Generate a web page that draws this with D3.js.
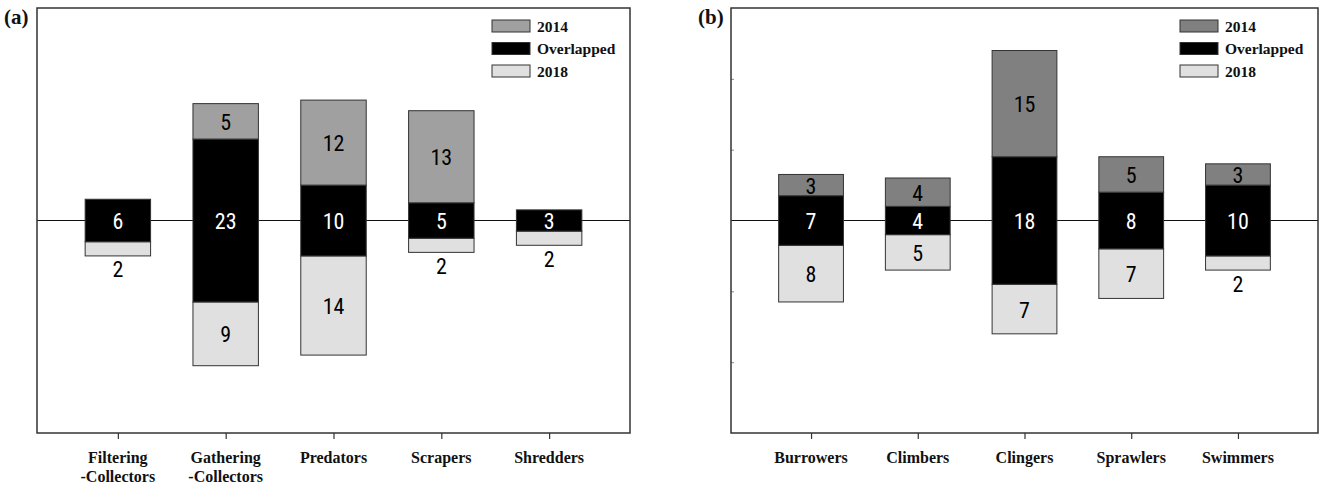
<!DOCTYPE html>
<html>
<head>
<meta charset="utf-8">
<script src="https://cdn.jsdelivr.net/npm/d3@7/dist/d3.min.js"></script>
<style>
  html, body { margin: 0; padding: 0; background: #fff; }
  svg { display: block; }
  .cat { font-family: "Liberation Serif", "Times New Roman", serif; font-weight: bold; font-size: 16px; fill: #111; }
  .leg { font-family: "Liberation Serif", "Times New Roman", serif; font-weight: bold; font-size: 15.5px; fill: #111; }
  .tag { font-family: "Liberation Serif", "Times New Roman", serif; font-weight: bold; font-size: 21px; fill: #111; }
  .val { font-family: "Liberation Sans Narrow", "Arial Narrow", "Roboto Condensed", "Liberation Sans", sans-serif; font-size: 22px; }
</style>
</head>
<body>
<svg id="chart" width="1323" height="486"></svg>
<script>
// Functional feeding groups (panel a)
const feedingGroups = [["Filtering", "-Collectors"], ["Gathering", "-Collectors"], ["Predators"], ["Scrapers"], ["Shredders"]];
const feeding2014 = [0, 5, 12, 13, 0];
const feedingOverlap = [6, 23, 10, 5, 3];
const feeding2018 = [2, 9, 14, 2, 2];

// Habit groups (panel b)
const habitGroups = [["Burrowers"], ["Climbers"], ["Clingers"], ["Sprawlers"], ["Swimmers"]];
const habit2014 = [3, 4, 15, 5, 3];
const habitOverlap = [7, 4, 18, 8, 10];
const habit2018 = [8, 5, 7, 7, 2];

const legendLabels = ["2014", "Overlapped", "2018"];
const yTicks = [-20, -10, 10, 20];

const svg = d3.select("#chart");

function panel(opts) {
  const { left, right, top, bottom, tag, groups, v2014, vOver, v2018, c2014, showTicks } = opts;
  const g = svg.append("g");
  const names = groups.map(d => d.join(" "));

  const x = d3.scalePoint().domain(names).range([left, right]).padding(0.75);
  const y = d3.scaleLinear().domain([-30, 30]).range([bottom, top]);
  const bw = x.step() * 0.607;

  // zero baseline
  g.append("line")
    .attr("x1", left).attr("x2", right)
    .attr("y1", y(0)).attr("y2", y(0))
    .attr("stroke", "#111").attr("stroke-width", 1.2);

  // left axis ticks (inward)
  if (showTicks) {
    const ax = d3.axisRight(y).tickValues(yTicks).tickSize(3).tickFormat("");
    const a = g.append("g").attr("transform", `translate(${left},0)`).call(ax);
    a.select(".domain").remove();
    a.selectAll("line").attr("stroke", "#888");
  }

  // stacked segments: overlap centred on zero, 2014 above, 2018 below
  const segs = [];
  names.forEach((n, i) => {
    const h = vOver[i] / 2;
    segs.push({ n, lo: -h - v2018[i], hi: -h, v: v2018[i], fill: "#e0e0e0", txt: "#000", kind: "2018" });
    segs.push({ n, lo: -h, hi: h, v: vOver[i], fill: "#000", txt: "#fff", kind: "over" });
    segs.push({ n, lo: h, hi: h + v2014[i], v: v2014[i], fill: c2014, txt: "#000", kind: "2014" });
  });
  const shown = segs.filter(s => s.v > 0);

  g.selectAll("rect.seg").data(shown).join("rect")
    .attr("class", "seg")
    .attr("x", d => x(d.n) - bw / 2)
    .attr("width", bw)
    .attr("y", d => y(d.hi))
    .attr("height", d => y(d.lo) - y(d.hi))
    .attr("fill", d => d.fill)
    .attr("stroke", "#333").attr("stroke-width", 1);

  g.selectAll("text.val").data(shown).join("text")
    .attr("class", "val")
    .attr("text-anchor", "middle")
    .attr("dominant-baseline", "central")
    .attr("x", d => x(d.n))
    .attr("y", d => {
      // very small 2018 segments carry their label underneath the bar
      if (d.kind === "2018" && d.v <= 2) return y(d.lo) + 14;
      return y((d.lo + d.hi) / 2) + 1;
    })
    .attr("fill", d => (d.kind === "2018" && d.v <= 2) ? "#000" : d.txt)
    .text(d => d.v);

  // frame
  g.append("rect")
    .attr("x", left).attr("y", top)
    .attr("width", right - left).attr("height", bottom - top)
    .attr("fill", "none").attr("stroke", "#333").attr("stroke-width", 1.5);

  // category axis
  const xa = d3.axisBottom(x).tickSize(6).tickFormat("");
  const xg = g.append("g").attr("transform", `translate(0,${bottom})`).call(xa);
  xg.select(".domain").remove();
  xg.selectAll("line").attr("stroke", "#333").attr("stroke-width", 1.2);

  const lab = g.selectAll("text.cat").data(groups).join("text")
    .attr("class", "cat")
    .attr("text-anchor", "middle")
    .attr("x", (d, i) => x(names[i]))
    .attr("y", bottom + 30);
  lab.selectAll("tspan").data(d => d).join("tspan")
    .attr("x", function () { return d3.select(this.parentNode).attr("x"); })
    .attr("dy", (d, i) => i === 0 ? 0 : 19)
    .text(d => d);

  // legend
  const lx = right - 138;
  const colors = [c2014, "#000", "#e0e0e0"];
  const lg = g.append("g");
  legendLabels.forEach((t, i) => {
    lg.append("rect")
      .attr("x", lx).attr("y", top + 12 + i * 22.5)
      .attr("width", 38).attr("height", 12)
      .attr("fill", colors[i]).attr("stroke", "#333").attr("stroke-width", 1);
    lg.append("text").attr("class", "leg")
      .attr("x", lx + 45).attr("y", top + 23.5 + i * 22.5)
      .text(t);
  });

  // panel tag
  svg.append("text").attr("class", "tag")
    .attr("x", left - 33).attr("y", top + 16)
    .text(tag);
}

panel({ left: 37, right: 630, top: 8, bottom: 433, tag: "(a)", groups: feedingGroups,
        v2014: feeding2014, vOver: feedingOverlap, v2018: feeding2018, c2014: "#a0a0a0", showTicks: false });
panel({ left: 731, right: 1318, top: 8, bottom: 433, tag: "(b)", groups: habitGroups,
        v2014: habit2014, vOver: habitOverlap, v2018: habit2018, c2014: "#808080", showTicks: true });
</script>
</body>
</html>
